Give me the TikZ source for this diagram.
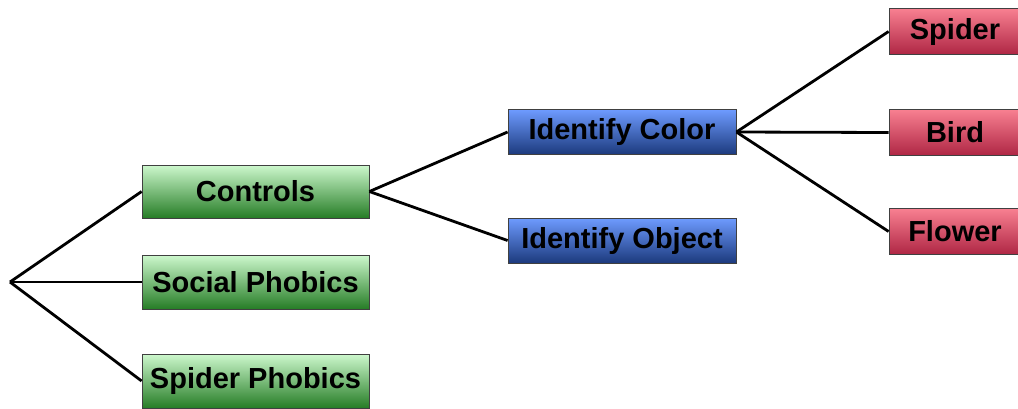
\documentclass[tikz,border=0pt]{standalone}
\usepackage{fontspec}
\setmainfont{Liberation Sans}
\begin{document}
\begin{tikzpicture}[x=1pt,y=-1pt,
  box/.style={rectangle, draw=black!75, line width=0.8pt, inner sep=0pt,
    minimum width=227pt, font=\fontsize{29}{31}\selectfont\bfseries},
  greenbox/.style={box, top color={rgb,255:red,205;green,248;blue,205}, bottom color={rgb,255:red,38;green,125;blue,38}, minimum height=53pt},
  bluebox/.style={box, top color={rgb,255:red,110;green,155;blue,255}, bottom color={rgb,255:red,28;green,58;blue,125}, minimum width=228pt, minimum height=45pt},
  redbox/.style={box, top color={rgb,255:red,248;green,128;blue,145}, bottom color={rgb,255:red,175;green,38;blue,68}, minimum width=132pt, minimum height=46pt},
  link/.style={draw=black, line width=2.8pt}]
\useasboundingbox (0,0) rectangle (1018,408);
\fill[white] (0,0) rectangle (1018,408);

% common root of the three groups
\coordinate (root) at (10,282);

% groups
\node[greenbox] (controls) at (255.5,191.5) {Controls};
\node[greenbox, minimum height=54pt] (social) at (255.5,282) {Social Phobics};
\node[greenbox, minimum height=54pt] (spiderph) at (255.5,381) {Spider Phobics};

% tasks
\node[bluebox] (color) at (622,132) {Identify Color};
\node[bluebox] (object) at (622,240.5) {Identify Object};

% stimuli
\node[redbox] (spider) at (955,31.5) {Spider};
\node[redbox] (bird) at (955,132.5) {Bird};
\node[redbox] (flower) at (955,231.5) {Flower};

% tree links
\draw[link] (root) -- (controls.west);
\draw[link] (root) -- (social.west);
\draw[link] (root) -- (spiderph.west);
\draw[link] (controls.east) -- (color.west);
\draw[link] (controls.east) -- (object.west);
\draw[link] (color.east) -- (spider.west);
\draw[link] (color.east) -- (bird.west);
\draw[link] (color.east) -- (flower.west);
\end{tikzpicture}
\end{document}
